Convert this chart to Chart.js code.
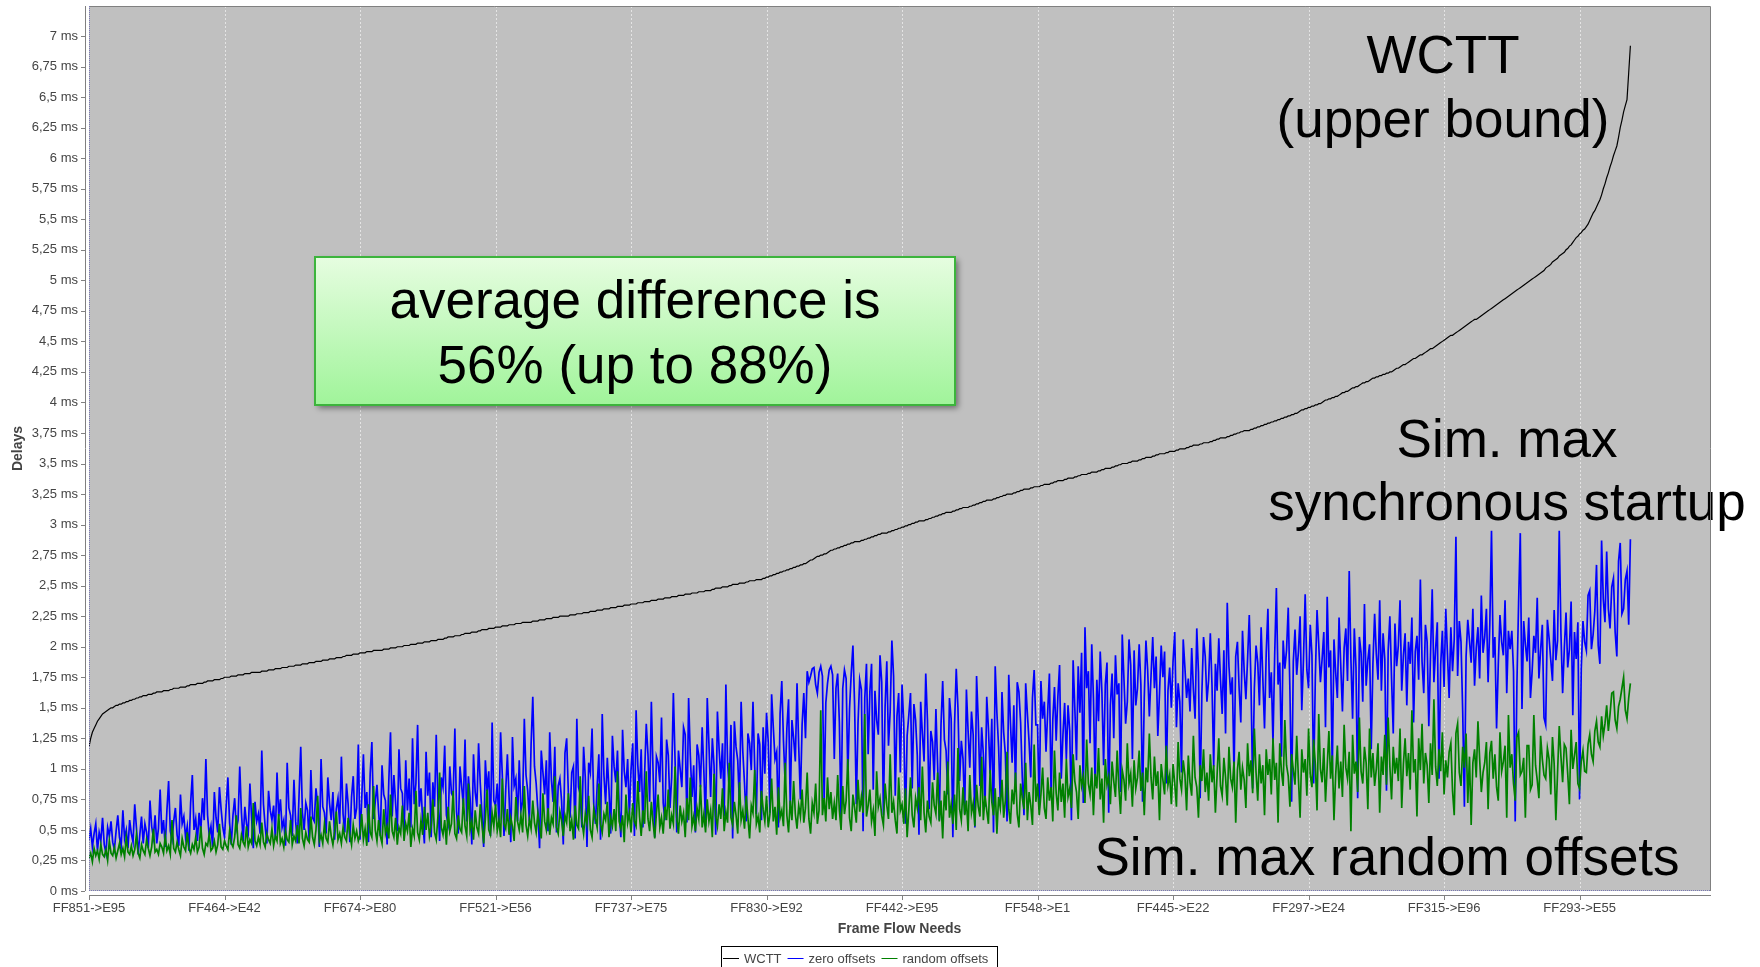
<!DOCTYPE html>
<html>
<head>
<meta charset="utf-8">
<script src="https://cdn.jsdelivr.net/npm/chart.js@4.4.1/dist/chart.umd.min.js"></script>
<style>
  html, body { margin: 0; padding: 0; background: #ffffff; }
  #wrap { width: 1760px; height: 967px; position: relative; }
  canvas { display: block; }
</style>
</head>
<body>
<div id="wrap"><canvas id="c" width="1760" height="967"></canvas></div>
<script>
// ---------------- DATA ----------------
const seriesNames = ['WCTT', 'zero offsets', 'random offsets'];

const xTickLabels = ['FF851->E95', 'FF464->E42', 'FF674->E80', 'FF521->E56', 'FF737->E75', 'FF830->E92',
                     'FF442->E95', 'FF548->E1', 'FF445->E22', 'FF297->E24', 'FF315->E96', 'FF293->E55'];
const xTickEvery = 80; // flow needs between two labelled ticks

const yTickLabels = ['0 ms', '0,25 ms', '0,5 ms', '0,75 ms', '1 ms', '1,25 ms', '1,5 ms', '1,75 ms',
                     '2 ms', '2,25 ms', '2,5 ms', '2,75 ms', '3 ms', '3,25 ms', '3,5 ms', '3,75 ms',
                     '4 ms', '4,25 ms', '4,5 ms', '4,75 ms', '5 ms', '5,25 ms', '5,5 ms', '5,75 ms',
                     '6 ms', '6,25 ms', '6,5 ms', '6,75 ms', '7 ms'];

// WCTT (upper bound), ms
const wctt = [
1.18,1.25,1.30,1.33,1.36,1.39,1.41,1.43,1.45,1.46,1.47,1.48,1.49,1.50,1.50,1.51,1.52,1.52,1.53,1.53,
1.54,1.54,1.55,1.55,1.56,1.56,1.57,1.57,1.58,1.58,1.59,1.59,1.60,1.60,1.60,1.61,1.61,1.61,1.62,1.62,
1.63,1.63,1.63,1.63,1.64,1.64,1.64,1.64,1.65,1.65,1.66,1.66,1.66,1.66,1.67,1.67,1.67,1.67,1.68,1.68,
1.69,1.69,1.69,1.69,1.70,1.70,1.70,1.70,1.71,1.71,1.72,1.72,1.72,1.72,1.73,1.73,1.73,1.73,1.74,1.74,
1.75,1.75,1.75,1.75,1.76,1.76,1.76,1.76,1.77,1.77,1.77,1.77,1.78,1.78,1.78,1.78,1.79,1.79,1.79,1.79,
1.79,1.79,1.80,1.80,1.80,1.80,1.81,1.81,1.81,1.81,1.82,1.82,1.82,1.82,1.83,1.83,1.83,1.83,1.84,1.84,
1.84,1.84,1.85,1.85,1.85,1.85,1.86,1.86,1.86,1.86,1.87,1.87,1.87,1.87,1.88,1.88,1.88,1.88,1.89,1.89,
1.89,1.89,1.90,1.90,1.90,1.90,1.91,1.91,1.91,1.91,1.92,1.92,1.93,1.93,1.93,1.93,1.94,1.94,1.94,1.94,
1.95,1.95,1.95,1.95,1.96,1.96,1.96,1.96,1.97,1.97,1.97,1.97,1.97,1.97,1.98,1.98,1.98,1.98,1.99,1.99,
1.99,1.99,2.00,2.00,2.00,2.00,2.01,2.01,2.01,2.01,2.02,2.02,2.02,2.02,2.03,2.03,2.03,2.03,2.04,2.04,
2.04,2.04,2.05,2.05,2.05,2.05,2.06,2.06,2.06,2.06,2.07,2.07,2.08,2.08,2.08,2.08,2.09,2.09,2.09,2.09,
2.10,2.10,2.11,2.11,2.11,2.11,2.12,2.12,2.12,2.12,2.13,2.13,2.14,2.14,2.14,2.14,2.15,2.15,2.15,2.15,
2.16,2.16,2.16,2.16,2.17,2.17,2.17,2.17,2.18,2.18,2.18,2.18,2.19,2.19,2.19,2.19,2.20,2.20,2.20,2.20,
2.20,2.20,2.21,2.21,2.21,2.21,2.22,2.22,2.22,2.22,2.23,2.23,2.23,2.23,2.24,2.24,2.24,2.24,2.25,2.25,
2.25,2.25,2.25,2.25,2.26,2.26,2.26,2.26,2.27,2.27,2.27,2.27,2.28,2.28,2.28,2.28,2.29,2.29,2.29,2.29,
2.30,2.30,2.30,2.30,2.31,2.31,2.31,2.31,2.32,2.32,2.32,2.32,2.33,2.33,2.33,2.33,2.34,2.34,2.34,2.34,
2.35,2.35,2.35,2.35,2.36,2.36,2.36,2.36,2.37,2.37,2.37,2.37,2.38,2.38,2.38,2.38,2.39,2.39,2.39,2.39,
2.40,2.40,2.40,2.40,2.41,2.41,2.41,2.41,2.42,2.42,2.42,2.42,2.43,2.43,2.43,2.43,2.44,2.44,2.44,2.44,
2.45,2.45,2.45,2.45,2.46,2.46,2.46,2.46,2.47,2.47,2.48,2.48,2.48,2.48,2.49,2.49,2.49,2.49,2.50,2.50,
2.51,2.51,2.51,2.51,2.52,2.52,2.52,2.52,2.53,2.53,2.54,2.54,2.54,2.54,2.55,2.55,2.55,2.55,2.56,2.56,
2.57,2.57,2.58,2.58,2.59,2.59,2.60,2.60,2.61,2.61,2.62,2.62,2.63,2.63,2.64,2.64,2.65,2.65,2.66,2.66,
2.67,2.67,2.68,2.68,2.69,2.70,2.71,2.71,2.72,2.73,2.74,2.74,2.75,2.75,2.76,2.76,2.77,2.78,2.79,2.79,
2.80,2.80,2.81,2.81,2.82,2.82,2.83,2.83,2.84,2.84,2.85,2.85,2.86,2.86,2.86,2.86,2.87,2.87,2.88,2.88,
2.89,2.89,2.90,2.90,2.91,2.91,2.92,2.92,2.93,2.93,2.93,2.93,2.94,2.94,2.95,2.95,2.96,2.96,2.97,2.97,
2.98,2.98,2.99,2.99,3.00,3.00,3.01,3.01,3.02,3.02,3.03,3.03,3.03,3.03,3.04,3.04,3.05,3.05,3.06,3.06,
3.07,3.07,3.08,3.08,3.09,3.09,3.10,3.10,3.10,3.10,3.11,3.11,3.12,3.12,3.13,3.13,3.14,3.14,3.14,3.14,
3.15,3.15,3.16,3.16,3.17,3.17,3.18,3.18,3.19,3.19,3.20,3.20,3.20,3.20,3.21,3.21,3.22,3.22,3.23,3.23,
3.24,3.24,3.25,3.25,3.25,3.25,3.26,3.26,3.27,3.27,3.28,3.28,3.29,3.29,3.29,3.29,3.30,3.30,3.31,3.31,
3.31,3.31,3.32,3.32,3.33,3.33,3.33,3.33,3.34,3.34,3.35,3.35,3.36,3.36,3.36,3.36,3.37,3.37,3.38,3.38,
3.38,3.38,3.39,3.39,3.40,3.40,3.41,3.41,3.41,3.41,3.42,3.42,3.43,3.43,3.43,3.43,3.44,3.44,3.45,3.45,
3.46,3.46,3.46,3.46,3.47,3.47,3.48,3.48,3.49,3.49,3.50,3.50,3.50,3.50,3.51,3.51,3.52,3.52,3.52,3.52,
3.53,3.53,3.54,3.54,3.55,3.55,3.55,3.55,3.56,3.56,3.57,3.57,3.58,3.58,3.58,3.58,3.59,3.59,3.60,3.60,
3.60,3.60,3.61,3.61,3.62,3.62,3.62,3.62,3.63,3.63,3.64,3.64,3.65,3.65,3.65,3.65,3.66,3.66,3.67,3.67,
3.67,3.67,3.68,3.68,3.69,3.69,3.70,3.70,3.71,3.71,3.71,3.71,3.72,3.72,3.73,3.73,3.74,3.74,3.75,3.75,
3.76,3.76,3.77,3.77,3.77,3.77,3.78,3.78,3.79,3.79,3.80,3.80,3.81,3.81,3.82,3.82,3.83,3.83,3.84,3.84,
3.85,3.85,3.86,3.86,3.87,3.87,3.88,3.88,3.89,3.89,3.90,3.90,3.91,3.91,3.92,3.93,3.94,3.94,3.95,3.95,
3.96,3.96,3.97,3.97,3.98,3.98,3.99,3.99,4.00,4.01,4.02,4.02,4.03,4.03,4.04,4.04,4.05,4.05,4.06,4.07,
4.08,4.08,4.09,4.09,4.10,4.11,4.12,4.12,4.13,4.13,4.14,4.15,4.16,4.16,4.17,4.17,4.18,4.19,4.20,4.20,
4.21,4.21,4.22,4.22,4.23,4.23,4.24,4.24,4.25,4.25,4.26,4.27,4.28,4.28,4.29,4.30,4.31,4.31,4.32,4.33,
4.34,4.35,4.36,4.36,4.37,4.38,4.39,4.39,4.40,4.41,4.42,4.43,4.44,4.44,4.45,4.46,4.47,4.48,4.49,4.50,
4.51,4.52,4.53,4.54,4.55,4.55,4.56,4.57,4.58,4.59,4.60,4.61,4.62,4.63,4.64,4.65,4.66,4.67,4.68,4.68,
4.69,4.70,4.71,4.72,4.73,4.74,4.75,4.76,4.77,4.78,4.79,4.80,4.81,4.82,4.83,4.84,4.85,4.86,4.87,4.88,
4.89,4.90,4.91,4.92,4.93,4.94,4.95,4.96,4.97,4.98,4.99,5.00,5.01,5.02,5.03,5.04,5.05,5.06,5.07,5.08,
5.10,5.11,5.12,5.13,5.15,5.16,5.17,5.18,5.20,5.21,5.22,5.23,5.25,5.26,5.28,5.29,5.31,5.33,5.35,5.36,
5.38,5.39,5.41,5.42,5.44,5.46,5.49,5.52,5.55,5.57,5.60,5.63,5.66,5.70,5.75,5.79,5.84,5.88,5.93,5.97,
6.02,6.06,6.10,6.17,6.25,6.31,6.38,6.43,6.48,6.70,6.92
];

// Simulated maximum, synchronous startup (zero offsets), ms
const zeroOffsets = [
0.42,0.51,0.36,0.47,0.55,0.33,0.48,0.41,0.60,0.38,0.31,0.52,0.45,0.57,0.40,0.34,0.49,0.62,0.44,0.37,
0.66,0.43,0.50,0.35,0.58,0.47,0.40,0.71,0.52,0.30,0.46,0.61,0.39,0.55,0.48,0.35,0.74,0.53,0.44,0.62,
0.39,0.51,0.83,0.47,0.58,0.36,0.66,0.90,0.49,0.42,0.57,0.68,0.46,0.37,0.79,0.55,0.61,0.44,0.53,0.33,
0.72,0.95,0.50,0.59,0.41,0.64,0.49,0.76,0.58,1.08,0.62,0.45,0.53,0.36,0.81,0.60,0.48,0.85,0.67,0.52,
0.44,0.70,0.93,0.56,0.38,0.62,0.76,0.51,0.58,1.02,0.64,0.41,0.69,0.55,0.48,0.88,0.60,0.35,0.73,0.57,
0.63,0.47,1.15,0.71,0.53,0.39,0.82,0.66,0.58,0.70,0.43,0.97,0.61,0.75,0.52,0.58,0.37,1.05,0.68,0.62,
0.45,0.91,0.57,0.39,0.78,1.18,0.64,0.50,0.72,0.66,0.41,0.99,0.60,0.57,0.84,0.70,0.36,1.08,0.69,0.64,
0.47,0.93,0.72,0.58,0.81,0.42,0.67,0.76,0.55,1.10,0.63,0.48,0.88,0.71,0.40,0.77,0.94,0.59,0.68,1.20,
0.42,0.75,1.12,0.68,0.81,0.40,0.96,1.22,0.59,0.73,0.87,0.64,0.45,1.03,0.79,0.74,0.38,0.90,1.30,0.61,
0.95,0.72,0.49,1.16,0.84,0.80,0.43,1.07,0.66,0.92,0.52,1.25,0.71,0.88,1.36,0.69,0.84,0.58,0.39,1.14,
0.78,0.97,0.44,0.89,0.69,1.28,0.74,0.41,0.93,0.85,1.19,0.62,0.55,1.02,0.80,0.77,1.33,0.65,0.47,1.02,
0.86,0.70,1.24,0.57,0.94,0.76,0.38,1.12,0.81,0.69,1.21,0.88,0.63,0.36,1.07,0.82,0.98,0.45,1.38,0.74,
0.70,0.88,0.56,1.30,0.95,0.45,0.82,1.12,0.77,0.40,1.26,0.86,0.92,0.57,1.07,0.66,0.73,1.41,0.95,0.82,
0.57,1.20,1.59,1.02,0.88,0.66,0.35,1.15,0.97,0.79,1.07,0.49,1.30,0.91,0.73,1.18,0.48,0.86,0.92,0.74,
0.38,1.13,1.25,0.80,0.60,0.97,1.02,0.43,1.41,0.85,0.79,0.52,1.18,0.93,0.36,1.05,0.97,1.33,0.71,0.55,
0.86,1.12,0.42,1.45,0.95,0.71,1.09,0.82,0.47,1.27,1.02,0.89,1.15,0.66,0.44,1.32,0.98,0.85,1.08,0.62,
0.99,1.21,0.45,1.48,1.03,0.81,1.16,0.52,0.95,1.37,1.12,0.73,1.55,0.98,0.44,1.10,1.05,0.89,1.42,0.72,
0.58,1.24,1.11,0.68,0.93,1.62,1.07,0.48,1.15,1.00,0.85,1.34,1.28,0.56,1.58,1.11,0.77,1.03,0.48,1.20,
1.11,0.85,1.34,0.98,0.53,1.58,1.20,0.77,1.25,1.03,0.46,1.47,1.16,0.92,1.21,0.61,1.69,1.05,0.83,1.36,
0.43,1.39,1.18,1.07,0.71,1.55,1.14,0.88,0.57,1.29,1.21,0.99,1.55,1.02,0.63,1.29,1.20,0.58,1.34,0.96,
1.46,1.22,0.64,1.61,1.34,1.08,1.14,0.52,1.45,1.72,1.23,0.88,1.33,1.57,0.69,1.40,1.25,1.06,1.70,1.18,
0.75,1.36,1.62,1.25,1.80,1.71,1.76,1.82,1.83,1.69,1.62,1.79,1.84,1.76,0.75,1.54,1.70,1.81,1.84,1.77,
1.08,1.66,1.78,1.38,0.58,1.66,1.81,1.74,0.94,1.49,1.78,2.01,1.52,0.71,1.37,1.73,1.65,0.49,1.58,1.86,
1.12,1.63,1.86,0.83,1.64,1.40,1.28,1.93,1.71,0.62,1.51,1.88,1.19,1.47,2.05,1.76,0.78,1.43,1.62,0.97,
1.69,1.38,0.55,1.27,1.44,1.62,0.84,1.53,1.40,1.11,0.46,1.55,1.29,1.06,1.78,1.40,0.67,1.31,1.22,0.91,
1.49,1.03,0.58,1.36,1.72,1.24,1.15,0.79,1.58,1.41,0.44,1.36,1.82,1.50,0.90,1.23,1.08,0.63,1.65,1.31,
1.01,1.47,1.28,0.52,1.76,1.39,0.86,1.34,1.12,0.69,1.59,1.33,0.96,1.41,0.48,1.84,1.46,1.18,0.74,1.63,
1.30,1.12,0.57,1.77,1.38,1.05,1.52,0.81,1.71,1.63,1.38,0.93,0.62,1.70,1.45,1.22,0.93,1.58,1.81,1.36,
1.36,0.68,1.72,1.41,1.55,1.14,1.47,1.78,0.79,1.40,1.67,1.23,1.59,1.85,0.92,1.28,1.54,1.08,1.52,1.31,
0.58,1.89,1.50,1.07,1.84,1.46,1.95,0.72,2.16,1.66,1.80,1.21,2.02,1.58,0.86,1.73,1.39,1.96,1.63,1.03,
1.69,1.87,0.64,1.52,1.78,1.25,1.93,1.61,1.70,0.81,2.10,1.74,1.37,1.55,2.06,1.85,1.08,1.97,1.52,1.66,
2.02,1.69,0.73,1.58,2.05,1.81,1.43,1.76,2.08,1.66,1.92,1.27,1.62,2.01,1.75,1.96,0.88,1.64,1.83,1.50,
1.88,2.12,1.34,1.70,1.55,0.97,2.06,1.83,1.58,1.74,1.47,1.99,1.65,1.41,2.15,1.79,0.76,1.61,2.08,1.92,
1.55,1.73,2.11,1.68,1.02,1.86,1.64,2.07,1.73,1.45,1.97,1.29,2.36,1.84,1.61,1.75,0.95,1.92,2.04,1.66,
1.38,2.13,1.80,1.57,1.90,2.26,1.71,0.84,1.66,2.01,1.87,1.52,2.16,1.74,1.33,1.95,2.31,1.58,1.79,1.21,
1.93,2.48,1.69,1.87,1.10,2.05,1.82,1.97,2.32,1.64,0.73,1.88,2.14,1.77,1.96,2.25,1.48,1.90,2.43,1.81,
1.66,2.18,1.93,0.88,1.75,2.30,2.02,1.71,1.90,2.12,1.34,2.41,1.83,1.97,0.97,2.06,1.79,1.58,2.24,1.85,
1.47,1.99,2.15,1.72,2.62,1.90,1.41,2.15,1.83,0.76,2.08,1.95,1.55,2.35,1.68,1.89,2.02,1.16,1.86,2.27,
1.94,1.73,2.38,1.64,2.11,1.90,0.82,1.97,2.25,1.74,1.29,2.19,1.84,2.01,2.38,1.64,1.93,2.11,1.52,2.04,
1.86,2.24,1.38,1.96,2.09,1.73,2.55,1.88,1.62,2.18,2.04,1.35,1.93,2.47,1.71,1.98,2.20,0.92,1.85,2.13,
1.67,2.31,1.94,1.58,2.16,1.80,2.06,2.90,1.76,2.21,2.04,1.47,0.69,1.92,2.22,2.05,1.87,2.31,1.68,1.99,
2.16,1.74,2.42,1.95,2.08,2.31,1.71,2.18,2.95,1.91,2.08,1.33,1.85,2.26,2.04,1.93,2.38,1.62,2.13,1.98,
2.13,1.80,0.57,1.69,2.36,2.93,1.49,2.21,2.02,1.88,2.24,1.58,1.80,2.09,1.95,2.40,1.74,1.97,2.18,1.42,
1.36,2.22,2.07,1.89,1.72,2.30,1.89,2.05,2.95,2.11,1.62,1.99,2.28,1.83,1.98,2.37,1.44,2.12,1.90,2.20,
0.75,1.82,2.21,2.04,1.97,2.42,2.46,1.98,2.10,2.29,2.67,2.01,1.86,2.87,2.39,2.20,2.78,2.31,2.15,2.49,
2.56,2.12,1.92,2.70,2.85,2.27,2.31,2.55,2.62,2.18,2.88
];

// Simulated maximum, random offsets, ms
const randomOffsets = [
0.27,0.31,0.24,0.35,0.29,0.33,0.26,0.38,0.30,0.28,0.34,0.25,0.41,0.31,0.29,0.36,0.27,0.33,0.39,0.30,
0.35,0.28,0.44,0.32,0.30,0.37,0.29,0.34,0.46,0.31,0.27,0.38,0.33,0.30,0.42,0.35,0.29,0.36,0.51,0.32,
0.34,0.30,0.39,0.36,0.31,0.45,0.33,0.37,0.30,0.58,0.35,0.32,0.40,0.34,0.29,0.43,0.36,0.33,0.48,0.35,
0.31,0.38,0.34,0.44,0.32,0.36,0.53,0.35,0.30,0.39,0.37,0.47,0.33,0.35,0.41,0.32,0.38,0.55,0.36,0.34,
0.41,0.37,0.34,0.49,0.39,0.36,0.44,0.62,0.38,0.35,0.46,0.40,0.37,0.53,0.36,0.42,0.39,0.72,0.41,0.37,
0.44,0.38,0.56,0.40,0.36,0.47,0.42,0.39,0.51,0.37,0.45,0.41,0.63,0.39,0.43,0.36,0.49,0.42,0.40,0.58,
0.38,0.45,0.41,0.54,0.39,0.68,0.43,0.37,0.48,0.42,0.40,0.61,0.44,0.38,0.50,0.78,0.41,0.46,0.39,0.55,
0.43,0.40,0.57,0.45,0.38,0.49,0.65,0.42,0.47,0.39,0.52,0.44,0.41,0.60,0.46,0.38,0.54,0.43,0.49,0.41,
0.46,0.63,0.42,0.51,0.37,0.71,0.48,0.44,0.86,0.50,0.41,0.58,0.45,0.39,0.67,0.47,0.53,0.43,0.79,0.49,
0.44,0.60,0.38,0.52,0.47,0.70,0.41,0.55,0.49,0.64,0.36,0.51,0.45,0.82,0.48,0.42,0.58,0.46,0.69,0.50,
0.64,0.45,0.53,0.75,0.48,0.42,0.61,0.97,0.52,0.46,0.58,0.38,0.69,0.49,0.55,0.82,0.47,0.43,0.62,0.51,
0.48,0.76,0.53,0.45,0.88,0.50,0.57,0.42,0.66,0.52,0.47,0.71,0.55,0.39,0.59,0.83,0.50,0.46,0.64,0.53,
0.71,0.49,0.58,0.44,0.92,0.55,0.51,0.67,0.46,0.60,0.53,0.41,0.77,0.57,0.50,0.62,0.48,0.86,0.54,0.45,
0.59,0.51,0.74,0.56,0.48,0.64,0.53,0.43,0.80,0.57,0.50,0.68,0.46,0.60,0.55,0.94,0.52,0.47,0.65,0.58,
0.45,0.62,0.56,0.80,0.49,0.58,0.42,0.70,0.54,0.51,0.94,0.57,0.47,0.63,0.55,0.78,0.50,0.44,0.67,0.59,
0.52,0.88,0.55,0.48,0.63,0.58,0.73,0.44,0.60,0.53,0.67,0.49,0.98,0.57,0.51,0.62,0.40,0.79,0.56,0.64,
0.48,0.72,0.57,0.53,0.90,0.61,0.45,0.66,0.55,0.98,0.59,0.49,0.73,0.56,0.43,0.64,0.79,0.52,0.60,0.47,
0.69,0.58,0.83,0.51,0.62,0.55,1.02,0.60,0.47,0.70,0.57,0.64,0.44,0.76,0.58,0.93,0.53,0.61,0.49,0.68,
0.59,0.87,0.52,0.63,0.48,0.75,0.57,0.66,0.44,0.96,0.61,0.53,0.71,0.59,0.84,0.49,0.65,0.56,1.05,0.60,
0.54,0.73,0.62,0.47,0.89,0.58,0.66,0.51,0.78,0.60,0.43,0.70,0.64,0.99,0.55,0.61,0.48,0.82,0.67,0.57,
0.78,0.52,0.63,0.92,0.57,0.69,0.46,0.85,0.60,0.66,0.53,1.05,0.62,0.48,0.74,0.58,0.90,0.63,0.51,0.70,
0.61,0.83,0.56,0.68,0.97,0.59,0.47,0.72,0.64,0.88,0.55,0.66,1.48,0.62,0.76,0.57,0.93,0.67,0.81,0.59,
0.72,0.58,0.95,0.66,0.50,0.86,0.63,0.74,1.08,0.60,0.49,0.79,0.68,0.56,0.91,0.65,0.77,0.64,1.45,0.61,
0.70,0.83,0.57,0.66,0.45,0.98,0.69,0.76,0.62,0.54,0.88,0.70,0.59,1.12,0.64,0.73,0.58,0.47,0.93,0.66,
0.71,0.55,0.84,0.44,0.66,0.93,0.62,0.52,0.76,0.68,0.85,0.58,1.02,0.64,0.48,0.74,0.61,0.56,0.89,0.70,
0.63,0.97,0.57,0.74,0.43,0.82,0.66,1.06,0.60,0.71,0.55,0.79,0.50,1.17,0.67,0.58,0.85,0.62,0.74,0.49,
0.95,0.64,0.72,0.53,0.87,0.69,0.61,1.10,0.58,0.78,0.66,0.55,0.99,0.73,0.62,0.84,0.47,0.77,0.68,0.91,
0.60,0.74,1.14,0.67,0.55,0.83,0.71,0.97,0.63,0.52,0.88,0.76,0.67,1.05,0.58,0.81,0.70,0.54,1.20,0.73,
0.88,0.62,0.79,1.01,0.68,0.59,0.93,0.74,0.85,0.57,1.15,0.80,0.66,0.97,0.73,0.88,0.60,1.08,0.77,0.84,
0.68,1.12,0.90,0.81,0.59,1.03,0.86,0.94,0.72,1.24,0.88,0.79,1.01,0.62,0.96,0.84,1.17,0.75,0.92,0.56,
1.08,0.87,0.94,0.71,1.06,0.90,0.77,1.15,0.85,0.63,0.99,0.91,0.74,1.21,0.88,0.96,0.69,1.07,0.84,0.93,
1.15,0.82,0.97,0.62,1.01,0.89,1.29,0.93,0.75,1.10,0.86,0.98,0.58,1.04,0.91,0.79,1.19,0.87,0.95,0.71,
1.04,0.88,0.69,1.22,0.92,0.83,1.07,0.95,0.66,1.11,0.89,0.78,1.27,0.93,0.85,0.60,1.03,0.90,1.16,0.81,
0.97,0.74,1.12,0.89,1.03,0.64,0.95,1.25,0.86,0.78,1.09,0.93,0.70,1.18,0.92,0.85,1.06,0.56,0.99,1.14,
0.83,1.01,0.91,0.68,1.21,0.94,1.07,0.80,1.33,0.97,0.74,1.12,0.88,1.03,0.62,1.16,0.95,1.08,0.79,1.25,
0.91,1.05,0.56,1.21,0.98,0.86,1.40,1.03,0.94,0.69,1.12,0.99,0.87,1.27,0.93,0.60,1.16,0.97,1.08,0.78,
1.33,0.95,0.85,1.24,1.04,0.66,1.45,1.00,0.89,1.17,0.73,1.02,1.31,0.92,1.11,0.58,0.95,1.19,0.84,1.06,
0.77,1.36,1.01,0.92,1.14,0.49,1.28,0.96,1.06,0.81,1.42,0.98,0.88,1.18,1.05,0.67,1.33,0.93,1.13,0.86,
1.00,1.21,0.64,1.10,0.95,1.28,0.87,1.42,1.02,0.75,1.18,0.96,1.09,0.90,1.33,0.68,1.04,1.25,0.94,1.13,
0.83,1.48,0.97,1.08,0.61,1.25,0.99,1.37,0.88,1.13,1.03,0.72,1.21,0.95,1.57,1.02,0.86,1.16,0.98,1.30,
0.79,1.07,0.93,1.14,1.21,0.82,0.62,1.29,1.37,0.97,0.86,1.18,1.01,1.29,0.72,1.10,0.54,1.05,1.16,0.93,
1.39,1.08,0.81,0.97,1.05,1.22,0.67,1.13,1.23,0.92,1.12,0.85,0.74,1.30,0.98,1.06,1.19,0.60,1.44,1.01,
1.12,0.88,0.74,1.26,1.30,0.95,0.98,1.09,0.60,1.19,1.19,0.83,0.87,1.44,1.03,0.91,0.76,1.27,1.08,0.95,
0.92,1.17,1.08,0.79,1.26,1.04,0.58,0.97,1.35,1.10,0.89,1.20,1.17,0.96,0.71,1.32,1.00,1.11,1.22,0.88,
0.84,1.06,1.15,0.98,0.97,1.20,1.28,1.12,1.06,1.31,1.39,1.22,1.18,1.43,1.27,1.37,1.52,1.31,1.45,1.62,
1.63,1.40,1.33,1.51,1.57,1.66,1.75,1.48,1.41,1.58,1.70
];

const annotationBox = ['average difference is', '56% (up to 88%)'];
const annotationWCTT = ['WCTT', '(upper bound)'];
const annotationSync = ['Sim. max', 'synchronous startup'];
const annotationRandom = ['Sim. max random offsets'];
const xAxisTitle = 'Frame Flow Needs';
const yAxisTitle = 'Delays';

// ---------------- CHART ----------------
const FONT = "'Liberation Sans', Arial, sans-serif";
const toXY = arr => arr.map((v, i) => ({ x: i, y: v }));
const xTickValues = xTickLabels.map((_, i) => i * xTickEvery);
const yTickValues = yTickLabels.map((_, i) => i * 0.25);
const colors = ['#000000', '#0000ff', '#008000'];

const decor = {
  id: 'decor',
  beforeDatasetsDraw(chart) {
    const { ctx, chartArea: a, scales: { x } } = chart;
    ctx.save();
    ctx.fillStyle = '#c0c0c0';
    ctx.fillRect(a.left, a.top, a.right - a.left, a.bottom - a.top);
    ctx.strokeStyle = '#e4e4e4';
    ctx.lineWidth = 1;
    ctx.setLineDash([2, 2]);
    x.ticks.forEach(t => {
      if (t.value === 0) return;
      const px = Math.round(x.getPixelForValue(t.value)) + 0.5;
      ctx.beginPath(); ctx.moveTo(px, a.top); ctx.lineTo(px, a.bottom); ctx.stroke();
    });
    ctx.restore();
  },
  afterDatasetsDraw(chart) {
    const { ctx } = chart;
    ctx.save();
    // green box
    const bx = 315, by = 257, bw = 640, bh = 148;
    ctx.save();
    ctx.shadowColor = 'rgba(0,0,0,0.45)';
    ctx.shadowBlur = 6; ctx.shadowOffsetX = 3; ctx.shadowOffsetY = 3;
    const g = ctx.createLinearGradient(0, by, 0, by + bh);
    g.addColorStop(0, '#e6fde0');
    g.addColorStop(1, '#a0f49a');
    ctx.fillStyle = g;
    ctx.fillRect(bx, by, bw, bh);
    ctx.restore();
    ctx.strokeStyle = '#3cb43c'; ctx.lineWidth = 2;
    ctx.strokeRect(bx, by, bw, bh);

    ctx.fillStyle = '#000';
    ctx.textAlign = 'center'; ctx.textBaseline = 'alphabetic';
    ctx.font = '53px ' + FONT;
    ctx.fillText(annotationBox[0], bx + bw / 2, 318);
    ctx.fillText(annotationBox[1], bx + bw / 2, 383);
    ctx.fillText(annotationWCTT[0], 1443, 73);
    ctx.fillText(annotationWCTT[1], 1443, 137);
    ctx.fillText(annotationSync[0], 1507, 457);
    ctx.fillText(annotationSync[1], 1507, 520);
    ctx.fillText(annotationRandom[0], 1387, 875);
    ctx.restore();
  },
  afterDraw(chart) {
    const { ctx, chartArea: a, scales: { x, y } } = chart;
    ctx.save();
    ctx.lineWidth = 1;
    // plot outline (top/right)
    ctx.strokeStyle = '#808080';
    ctx.beginPath();
    ctx.moveTo(a.left, a.top + 0.5); ctx.lineTo(a.right + 0.5, a.top + 0.5); ctx.lineTo(a.right + 0.5, a.bottom);
    ctx.stroke();
    // dotted zero lines
    ctx.strokeStyle = '#7878b4';
    ctx.setLineDash([1, 1]);
    ctx.beginPath(); ctx.moveTo(a.left + 0.5, a.top); ctx.lineTo(a.left + 0.5, a.bottom); ctx.stroke();
    ctx.beginPath(); ctx.moveTo(a.left, a.bottom - 0.5); ctx.lineTo(a.right, a.bottom - 0.5); ctx.stroke();
    ctx.setLineDash([]);
    // axis lines
    ctx.strokeStyle = '#808080';
    ctx.beginPath(); ctx.moveTo(a.left - 3.5, a.top); ctx.lineTo(a.left - 3.5, a.bottom); ctx.stroke();
    ctx.beginPath(); ctx.moveTo(a.left, a.bottom + 4.5); ctx.lineTo(a.right + 1, a.bottom + 4.5); ctx.stroke();
    // tick marks
    y.ticks.forEach(t => {
      const py = Math.round(y.getPixelForValue(t.value)) + 0.5;
      ctx.beginPath(); ctx.moveTo(a.left - 8, py); ctx.lineTo(a.left - 4, py); ctx.stroke();
    });
    x.ticks.forEach(t => {
      const px = Math.round(x.getPixelForValue(t.value)) + 0.5;
      ctx.beginPath(); ctx.moveTo(px, a.bottom + 5); ctx.lineTo(px, a.bottom + 9); ctx.stroke();
    });
    // axis titles
    ctx.fillStyle = '#444444';
    ctx.font = 'bold 14px ' + FONT;
    ctx.textAlign = 'center'; ctx.textBaseline = 'alphabetic';
    ctx.fillText(xAxisTitle, (a.left + a.right) / 2, 933);
    ctx.save();
    ctx.translate(22, (a.top + a.bottom) / 2);
    ctx.rotate(-Math.PI / 2);
    ctx.fillText(yAxisTitle, 0, 0);
    ctx.restore();
    // legend
    ctx.font = '13px ' + FONT;
    ctx.fillStyle = '#ffffff';
    ctx.fillRect(721, 946, 276, 30);
    ctx.strokeStyle = '#000000';
    ctx.strokeRect(721.5, 946.5, 276, 30);
    let lx = 723;
    const ly = 963;
    seriesNames.forEach((name, i) => {
      ctx.strokeStyle = colors[i];
      ctx.beginPath(); ctx.moveTo(lx, ly - 4.5); ctx.lineTo(lx + 16, ly - 4.5); ctx.stroke();
      lx += 21;
      ctx.fillStyle = '#444444';
      ctx.textAlign = 'left';
      ctx.fillText(name, lx, ly);
      lx += ctx.measureText(name).width + 6;
    });
    ctx.restore();
  }
};

new Chart(document.getElementById('c'), {
  type: 'line',
  data: {
    datasets: [
      { label: seriesNames[0], data: toXY(wctt), borderColor: colors[0], borderWidth: 1.2, order: 0 },
      { label: seriesNames[1], data: toXY(zeroOffsets), borderColor: colors[1], borderWidth: 1.7, order: 2 },
      { label: seriesNames[2], data: toXY(randomOffsets), borderColor: colors[2], borderWidth: 1.7, order: 1 }
    ]
  },
  options: {
    responsive: false,
    animation: false,
    devicePixelRatio: 1,
    parsing: false,
    normalized: true,
    elements: { point: { radius: 0, hoverRadius: 0 }, line: { tension: 0, fill: false } },
    layout: { padding: { top: 6, right: 50, left: 0, bottom: 0 } },
    plugins: { legend: { display: false }, tooltip: { enabled: false }, title: { display: false } },
    events: [],
    scales: {
      x: {
        type: 'linear', min: 0, max: 957,
        grid: { display: false, drawTicks: false },
        border: { display: false },
        afterBuildTicks: s => { s.ticks = xTickValues.map(v => ({ value: v })); },
        afterFit: s => { s.height = 76; s.paddingLeft = 0; s.paddingRight = 0; },
        ticks: {
          autoSkip: false, maxRotation: 0, padding: 10,
          color: '#444444', font: { family: FONT, size: 13 },
          callback: v => xTickLabels[Math.round(v / xTickEvery)]
        }
      },
      y: {
        type: 'linear', min: 0, max: 7.246,
        grid: { display: false, drawTicks: false },
        border: { display: false },
        afterBuildTicks: s => { s.ticks = yTickValues.map(v => ({ value: v })); },
        afterFit: s => { s.width = 89; s.paddingTop = 0; s.paddingBottom = 0; },
        ticks: {
          autoSkip: false, padding: 11,
          color: '#444444', font: { family: FONT, size: 13 },
          callback: (v, i) => yTickLabels[i]
        }
      }
    }
  },
  plugins: [decor]
});
</script>
</body>
</html>
